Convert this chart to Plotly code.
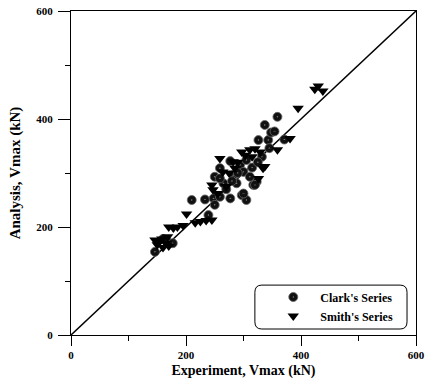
import plotly.graph_objects as go

clark_x = [146, 160, 168, 177, 210, 233, 248, 259, 277, 297, 250, 239,
           250, 259, 277, 294, 305, 317, 323, 326, 343, 345, 332, 300, 282,
           265, 288, 311, 259, 359, 337, 348, 354, 371, 320, 305, 300, 270,
           280, 290, 315, 325]
clark_y = [154, 178, 173, 170, 250, 251, 253, 256, 253, 259, 241, 222,
           293, 309, 322, 315, 324, 278, 284, 361, 361, 346, 330, 302, 296,
           281, 281, 293, 290, 404, 389, 375, 377, 362, 278, 250, 262, 270,
           285, 300, 310, 320]

smith_x = [146, 152, 158, 165, 170, 150, 160, 168, 170, 178, 185, 195,
           201, 216, 225, 235, 245, 245, 247, 259, 264, 282, 285, 297, 303,
           311, 329, 334, 326, 337, 359, 381, 395, 424, 430, 438, 270, 255,
           275, 290, 315, 320]
smith_y = [176, 172, 178, 170, 165, 167, 162, 182, 200, 198, 200, 203,
           224, 208, 210, 212, 213, 278, 269, 327, 302, 321, 309, 339, 333,
           343, 339, 309, 290, 312, 343, 364, 420, 455, 461, 452, 275, 262,
           300, 320, 330, 345]

line_x = [0, 600]
line_y = [0, 600]

font_fam = "Liberation Serif"

fig = go.Figure()
fig.add_trace(go.Scatter(x=line_x, y=line_y, mode="lines",
                         line=dict(color="black", width=1.5), showlegend=False))
fig.add_trace(go.Scatter(x=clark_x, y=clark_y, mode="markers", name="Clark's Series",
                         marker=dict(symbol="circle-dot", size=9, color="#111111",
                                     line=dict(color="#666666", width=0.8))))
fig.add_trace(go.Scatter(x=smith_x, y=smith_y, mode="markers", name="Smith's Series",
                         marker=dict(symbol="triangle-down", size=10, color="black",
                                     line=dict(width=0))))

axis_common = dict(
    range=[0, 600], tickvals=[0, 200, 400, 600], ticks="outside",
    tickwidth=1, tickcolor="black", showline=True, linecolor="black", linewidth=1,
    mirror=True, showgrid=False, zeroline=False, automargin=False,
    tickfont=dict(family=font_fam, size=11, color="black", weight="bold"),
    minor=dict(tickvals=[100, 300, 500], ticks="outside", ticklen=5,
               tickcolor="black", showgrid=False),
)

fig.update_layout(
    width=428, height=385,
    margin=dict(l=71, r=12, t=11, b=50),
    paper_bgcolor="white", plot_bgcolor="white",
    xaxis=dict(**axis_common, ticklen=10,
               title=dict(text="Experiment, Vmax (kN)", standoff=4,
               font=dict(family=font_fam, size=14, color="black", weight="bold"))),
    yaxis=dict(**axis_common, ticklen=12, ticklabelstandoff=3,
               title=dict(text="Analysis, Vmax (kN)", standoff=12,
               font=dict(family=font_fam, size=15, color="black", weight="bold"))),
    legend=dict(x=0.566, y=0.162, xanchor="left", yanchor="top", itemwidth=44,
                bgcolor="rgba(0,0,0,0)", borderwidth=0, tracegroupgap=0,
                font=dict(family=font_fam, size=12, color="black", weight="bold")),
    showlegend=True,
)

# rounded legend frame (paper coords)
x0, x1, y0, y1 = 0.533, 0.974, 0.0185, 0.154
rx, ry = 0.02, 0.022
path = (f"M {x0+rx},{y0} L {x1-rx},{y0} Q {x1},{y0} {x1},{y0+ry} "
        f"L {x1},{y1-ry} Q {x1},{y1} {x1-rx},{y1} L {x0+rx},{y1} "
        f"Q {x0},{y1} {x0},{y1-ry} L {x0},{y0+ry} Q {x0},{y0} {x0+rx},{y0} Z")
fig.add_shape(type="path", path=path, xref="paper", yref="paper",
              line=dict(color="black", width=1), fillcolor="white", layer="below")

fig.write_html("out.html")
